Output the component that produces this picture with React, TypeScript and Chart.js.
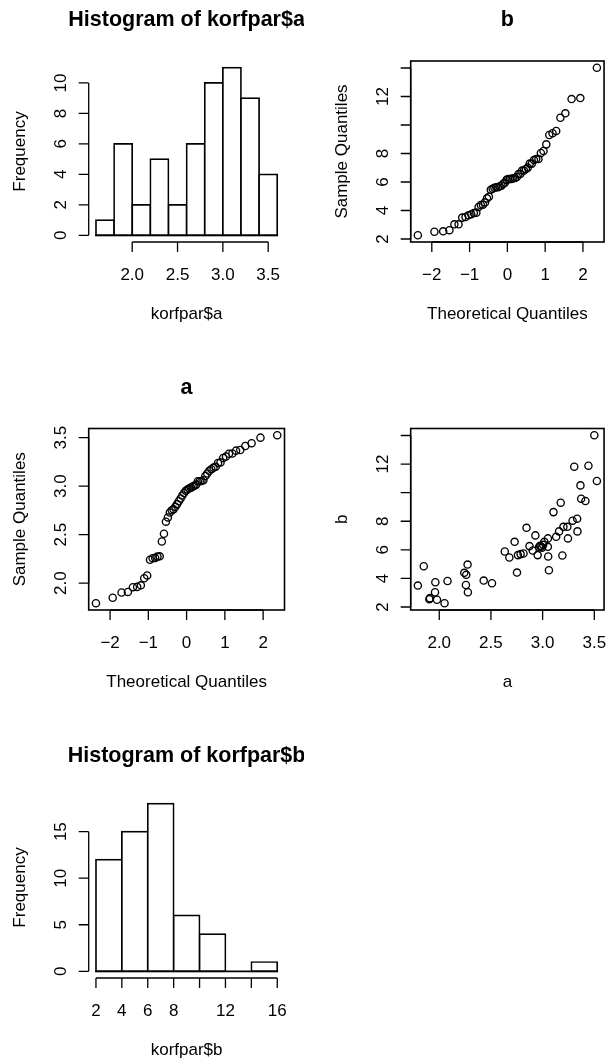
import React, { useEffect, useRef } from 'react';
import { Chart, registerables } from 'chart.js';

Chart.register(...registerables);

// ---------------- data ----------------
const aValues = [
  1.793, 1.85, 1.904, 1.91, 1.959, 1.962, 1.978, 2.051, 2.08, 2.242, 2.258, 2.261, 2.274, 2.277,
  2.43, 2.51, 2.634, 2.678, 2.729, 2.752, 2.761, 2.787, 2.815, 2.844, 2.873, 2.904, 2.93, 2.952,
  2.965, 2.975, 2.985, 2.995, 3.005, 3.016, 3.051, 3.051, 3.054, 3.061, 3.105, 3.131, 3.159, 3.175,
  3.191, 3.201, 3.239, 3.245, 3.29, 3.306, 3.334, 3.337, 3.366, 3.373, 3.414, 3.443, 3.5, 3.525,
];
const bValues = [
  3.5, 4.85, 2.54, 2.62, 3.03, 3.73, 2.51, 2.26, 3.82, 4.39, 3.54, 4.25, 4.97, 3.03,
  3.85, 3.66, 5.88, 5.46, 6.56, 4.41, 5.63, 5.7, 5.74, 7.54, 6.26, 5.95, 7.01, 5.63,
  6.2, 6.28, 6.22, 6.15, 6.35, 6.56, 6.8, 6.21, 5.53, 4.57, 8.64, 6.91, 7.29, 9.3,
  5.6, 7.61, 7.61, 6.8, 8.04, 11.82, 8.18, 7.29, 10.51, 9.58, 9.42, 11.89, 14.02, 10.82,
];
// normal theoretical quantiles for n = 56
const theoreticalQuantiles = [
  -2.369, -1.931, -1.699, -1.534, -1.403, -1.292, -1.195, -1.108, -1.03, -0.956, -0.887, -0.822,
  -0.761, -0.703, -0.647, -0.592, -0.54, -0.489, -0.439, -0.39, -0.343, -0.295, -0.249, -0.203,
  -0.157, -0.112, -0.067, -0.022, 0.022, 0.067, 0.112, 0.157, 0.203, 0.249, 0.295, 0.343,
  0.39, 0.439, 0.489, 0.54, 0.592, 0.647, 0.703, 0.761, 0.822, 0.887, 0.956, 1.03,
  1.108, 1.195, 1.292, 1.403, 1.534, 1.699, 1.931, 2.369,
];

const histABreaks = [1.6, 1.8, 2.0, 2.2, 2.4, 2.6, 2.8, 3.0, 3.2, 3.4, 3.6];
const histACounts = [1, 6, 2, 5, 2, 6, 10, 11, 9, 4];
const histBBreaks = [2, 4, 6, 8, 10, 12, 14, 16];
const histBCounts = [12, 15, 18, 6, 4, 0, 1];

// tick values and labels
const histAXTicks = [2.0, 2.5, 3.0, 3.5];
const histAXLabels = ['2.0', '2.5', '3.0', '3.5'];
const histAYTicks = [0, 2, 4, 6, 8, 10];
const histAYLabels = ['0', '2', '4', '6', '8', '10'];
const qqXTicks = [-2, -1, 0, 1, 2];
const qqXLabels = ['\u22122', '\u22121', '0', '1', '2'];
const bTicks = [2, 4, 6, 8, 10, 12, 14];
const bTickLabels = ['2', '4', '6', '8', '', '12', ''];
const aTicks = [2.0, 2.5, 3.0, 3.5];
const aTickLabels = ['2.0', '2.5', '3.0', '3.5'];
const histBXTicks = [2, 4, 6, 8, 10, 12, 14, 16];
const histBXLabels = ['2', '4', '6', '8', '', '12', '', '16'];
const histBYTicks = [0, 5, 10, 15];
const histBYLabels = ['0', '5', '10', '15'];

// ---------------- styling ----------------
const FONT = '"Liberation Sans", Arial, Helvetica, sans-serif';
const AXIS_PX = 17;
const TITLE_PX = 21.5;
const TICK_LEN = 10;

function rRange(vals: number[]): [number, number] {
  const lo = Math.min(...vals);
  const hi = Math.max(...vals);
  const d = (hi - lo) * 0.04;
  return [lo - d, hi + d];
}

const rPlot = {
  id: 'rplot',
  afterDraw(chart: any, _args: any, o: any) {
    const { ctx, chartArea: ca } = chart;
    const xs = chart.scales.x;
    const ys = chart.scales.y;
    ctx.save();
    ctx.strokeStyle = '#000';
    ctx.fillStyle = '#000';
    ctx.lineCap = 'butt';

    if (o.baseline) {
      const y0 = ys.getPixelForValue(0);
      ctx.lineWidth = 1.7;
      ctx.beginPath();
      ctx.moveTo(xs.getPixelForValue(o.baseline[0]) - 0.85, y0);
      ctx.lineTo(xs.getPixelForValue(o.baseline[1]) + 0.85, y0);
      ctx.stroke();
    }
    if (o.box) {
      ctx.lineWidth = 1.6;
      ctx.strokeRect(ca.left, ca.top, ca.right - ca.left, ca.bottom - ca.top);
    }

    // x axis
    const xp = o.xTicks.map((v: number) => xs.getPixelForValue(v));
    ctx.lineWidth = 1.3;
    ctx.beginPath();
    ctx.moveTo(xp[0], ca.bottom);
    ctx.lineTo(xp[xp.length - 1], ca.bottom);
    xp.forEach((x: number) => {
      ctx.moveTo(x, ca.bottom);
      ctx.lineTo(x, ca.bottom + TICK_LEN);
    });
    ctx.stroke();
    ctx.font = `${AXIS_PX}px ${FONT}`;
    ctx.textAlign = 'center';
    ctx.textBaseline = 'alphabetic';
    xp.forEach((x: number, i: number) => ctx.fillText(o.xLabels[i], x, ca.bottom + 37.5));

    // y axis
    const yp = o.yTicks.map((v: number) => ys.getPixelForValue(v));
    ctx.beginPath();
    ctx.moveTo(ca.left, yp[0]);
    ctx.lineTo(ca.left, yp[yp.length - 1]);
    yp.forEach((y: number) => {
      ctx.moveTo(ca.left, y);
      ctx.lineTo(ca.left - TICK_LEN, y);
    });
    ctx.stroke();
    yp.forEach((y: number, i: number) => {
      ctx.save();
      ctx.translate(ca.left - 23, y);
      ctx.rotate(-Math.PI / 2);
      ctx.fillText(o.yLabels[i], 0, 0);
      ctx.restore();
    });

    // axis titles
    const cx = (ca.left + ca.right) / 2;
    const cy = (ca.top + ca.bottom) / 2;
    ctx.fillText(o.xTitle, cx, ca.bottom + 76.5);
    ctx.save();
    ctx.translate(ca.left - 64, cy);
    ctx.rotate(-Math.PI / 2);
    ctx.fillText(o.yTitle, 0, 0);
    ctx.restore();

    if (o.title) {
      ctx.font = `bold ${TITLE_PX}px ${FONT}`;
      ctx.fillText(o.title, cx, ca.top - 35);
    }
    ctx.restore();
  },
};

function baseOptions(padding: any, xr: [number, number], yr: [number, number], deco: any) {
  return {
    responsive: false,
    animation: false as const,
    devicePixelRatio: 1,
    events: [] as any[],
    layout: { padding },
    plugins: {
      legend: { display: false },
      tooltip: { enabled: false },
      title: { display: false },
      rplot: deco,
    },
    scales: {
      x: { type: 'linear' as const, display: false, min: xr[0], max: xr[1], offset: false },
      y: { type: 'linear' as const, display: false, min: yr[0], max: yr[1], offset: false },
    },
  };
}

function histConfig(breaks: number[], counts: number[], padding: any, deco: any) {
  const mids = counts.map((c, i) => ({ x: (breaks[i] + breaks[i + 1]) / 2, y: c }));
  const xr = rRange(breaks);
  const yr = rRange([0, Math.max(...counts)]);
  return {
    type: 'bar' as const,
    data: {
      datasets: [
        {
          data: mids,
          backgroundColor: '#ffffff',
          borderColor: '#000000',
          borderWidth: 1.7,
          borderSkipped: false,
          inflateAmount: 0.85,
          barPercentage: 1,
          categoryPercentage: 1,
        },
      ],
    },
    options: baseOptions(padding, xr, yr, { ...deco, baseline: [breaks[0], breaks[breaks.length - 1]] }),
    plugins: [rPlot],
  };
}

function pointsConfig(xv: number[], yv: number[], padding: any, deco: any) {
  const pts = xv.map((x, i) => ({ x, y: yv[i] }));
  return {
    type: 'scatter' as const,
    data: {
      datasets: [
        {
          data: pts,
          pointRadius: 3.6,
          pointHoverRadius: 3.6,
          pointBorderWidth: 1.35,
          pointBackgroundColor: 'rgba(0,0,0,0)',
          pointBorderColor: '#000000',
          clip: false as any,
        },
      ],
    },
    options: baseOptions(padding, rRange(xv), rRange(yv), { ...deco, box: true }),
    plugins: [rPlot],
  };
}

const sortedA = [...aValues].sort((p, q) => p - q);
const sortedB = [...bValues].sort((p, q) => p - q);

const padLeftCol = { left: 88.7, right: 19.5 };
const padRightCol = { left: 106.7, right: 2.3 };
const padRow1 = { top: 61, bottom: 112 };
const padRow2 = { top: 74.5, bottom: 99 };
const padRow3 = { top: 88, bottom: 86 };

function Panel({ left, top, width, height, make }: any) {
  const ref = useRef<HTMLCanvasElement>(null);
  useEffect(() => {
    const chart = new Chart(ref.current as HTMLCanvasElement, make());
    return () => chart.destroy();
  }, []);
  return (
    <canvas
      ref={ref}
      width={width}
      height={height}
      style={{ position: 'absolute', left, top, width, height, display: 'block' }}
    />
  );
}

export default function App() {
  return (
    <div style={{ position: 'absolute', left: 0, top: 0, width: 609, height: 1064, background: '#fff' }}>
      <Panel
        left={0}
        top={0}
        width={304}
        height={354}
        make={() =>
          histConfig(histABreaks, histACounts, { ...padLeftCol, ...padRow1 }, {
            title: 'Histogram of korfpar$a',
            xTitle: 'korfpar$a',
            yTitle: 'Frequency',
            xTicks: histAXTicks,
            xLabels: histAXLabels,
            yTicks: histAYTicks,
            yLabels: histAYLabels,
          })
        }
      />
      <Panel
        left={304}
        top={0}
        width={305}
        height={354}
        make={() =>
          pointsConfig(theoreticalQuantiles, sortedB, { ...padRightCol, ...padRow1 }, {
            title: 'b',
            xTitle: 'Theoretical Quantiles',
            yTitle: 'Sample Quantiles',
            xTicks: qqXTicks,
            xLabels: qqXLabels,
            yTicks: bTicks,
            yLabels: bTickLabels,
          })
        }
      />
      <Panel
        left={0}
        top={354}
        width={304}
        height={355}
        make={() =>
          pointsConfig(theoreticalQuantiles, sortedA, { ...padLeftCol, ...padRow2 }, {
            title: 'a',
            xTitle: 'Theoretical Quantiles',
            yTitle: 'Sample Quantiles',
            xTicks: qqXTicks,
            xLabels: qqXLabels,
            yTicks: aTicks,
            yLabels: aTickLabels,
          })
        }
      />
      <Panel
        left={304}
        top={354}
        width={305}
        height={355}
        make={() =>
          pointsConfig(aValues, bValues, { ...padRightCol, ...padRow2 }, {
            title: '',
            xTitle: 'a',
            yTitle: 'b',
            xTicks: aTicks,
            xLabels: aTickLabels,
            yTicks: bTicks,
            yLabels: bTickLabels,
          })
        }
      />
      <Panel
        left={0}
        top={709}
        width={304}
        height={355}
        make={() =>
          histConfig(histBBreaks, histBCounts, { ...padLeftCol, ...padRow3 }, {
            title: 'Histogram of korfpar$b',
            xTitle: 'korfpar$b',
            yTitle: 'Frequency',
            xTicks: histBXTicks,
            xLabels: histBXLabels,
            yTicks: histBYTicks,
            yLabels: histBYLabels,
          })
        }
      />
    </div>
  );
}
